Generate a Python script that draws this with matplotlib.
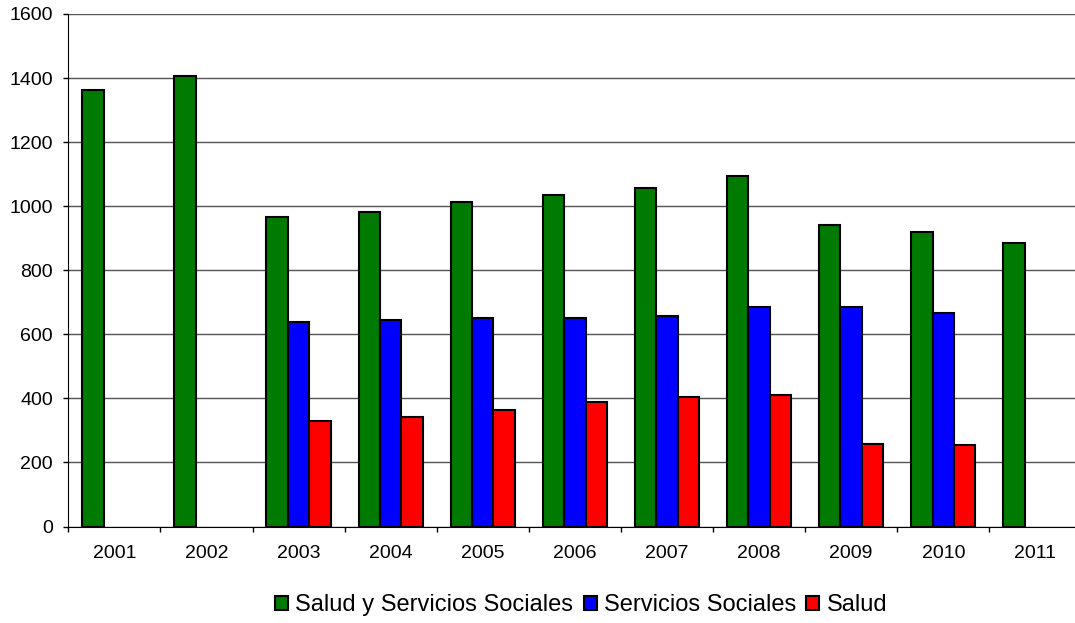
import matplotlib
matplotlib.use("Agg")
import matplotlib.pyplot as plt
import numpy as np

plt.rcParams['font.family'] = ['Liberation Sans', 'DejaVu Sans']

years = ["2001", "2002", "2003", "2004", "2005", "2006", "2007", "2008", "2009", "2010", "2011"]
salud_servicios = [1362, 1408, 965, 982, 1012, 1036, 1058, 1094, 941, 919, 885]
servicios_sociales = [None, None, 638, 645, 651, 650, 657, 686, 685, 667, None]
salud = [None, None, 328, 341, 365, 388, 405, 410, 259, 254, None]

series = [
    ("Salud y Servicios Sociales", salud_servicios, "#007a00"),
    ("Servicios Sociales", servicios_sociales, "#0000ff"),
    ("Salud", salud, "#ff0000"),
]

W, H = 1075, 623
fig = plt.figure(figsize=(W / 100, H / 100), dpi=100)
left, right, top, bottom = 68.3, 1081.4, 14, 526.5
ax = fig.add_axes([left / W, 1 - bottom / H, (right - left) / W, (bottom - top) / H])

x = np.arange(len(years))
w = 0.232
for i, (name, vals, col) in enumerate(series):
    xs = [xi + (i - 1) * w for xi, v in zip(x, vals) if v is not None]
    vs = [v for v in vals if v is not None]
    ax.bar(xs, vs, width=w, color=col, edgecolor="black", linewidth=1.5,
           label=name, zorder=3)

ax.set_xlim(-0.5, len(years) - 0.5)
ax.set_ylim(0, 1600)
ax.set_yticks(range(0, 1601, 200))
ax.yaxis.grid(True, color="#555555", linewidth=1.0, zorder=0)
ax.set_axisbelow(True)

ax.set_xticks(x)
ax.set_xticklabels(years)
ax.set_xticks(np.arange(-0.5, len(years), 1.0), minor=True)
ax.tick_params(axis="x", which="major", length=0, pad=13, labelsize=14)
ax.tick_params(axis="x", which="minor", length=3.6, width=1, color="black")
ax.tick_params(axis="y", length=3.6, width=1, labelsize=14, pad=7.5)

for s in ["top", "right"]:
    ax.spines[s].set_visible(False)
ax.spines["left"].set_color("black")
ax.spines["bottom"].set_color("black")

handles, labels = ax.get_legend_handles_labels()
leg = fig.legend(handles, labels, loc="center", bbox_to_anchor=(581 / W, 1 - 605 / H), ncol=3,
                 frameon=False, fontsize=17, handlelength=0.55, handleheight=0.55,
                 handletextpad=0.3, columnspacing=0.45, borderpad=0)

fig.savefig("out.png", dpi=100)
